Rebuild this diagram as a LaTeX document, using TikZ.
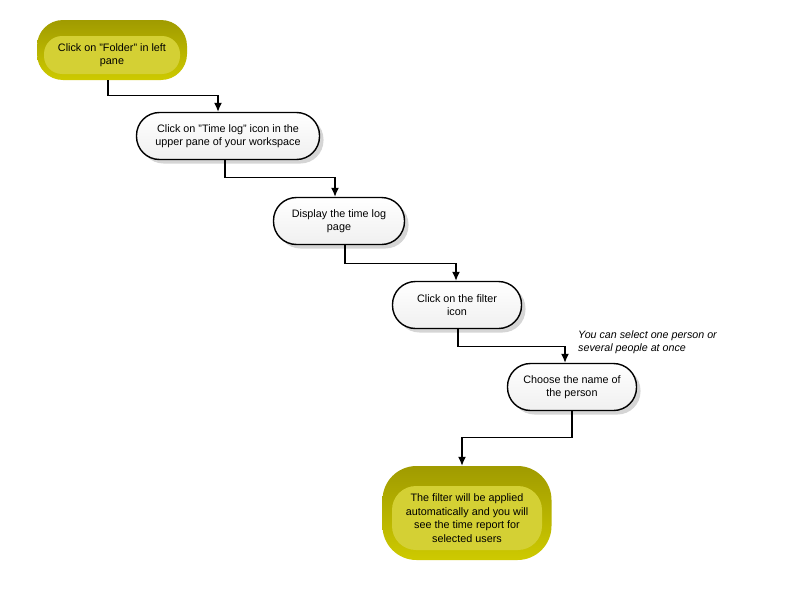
\documentclass[tikz,border=0pt]{standalone}
\usepackage{fontspec}
\setmainfont{Liberation Sans}
\usepackage{xcolor}
\usetikzlibrary{shadows,arrows.meta}
\definecolor{oliveTop}{RGB}{160,155,0}
\definecolor{oliveBody}{RGB}{200,196,0}
\definecolor{oliveLight}{RGB}{212,208,52}

\tikzset{
  stepbox/.style={draw=black, line width=1.4pt, rounded corners=23pt, minimum height=47pt,
    top color=white, bottom color=gray!12, align=center, font=\fontsize{10.8}{13.5}\selectfont,
    drop shadow={shadow xshift=4pt, shadow yshift=-4pt, fill=gray!60, opacity=.55}},
  termbox/.style={rounded corners=26pt, draw=none, top color=oliveTop, middle color=oliveBody,
    bottom color=oliveBody!90!yellow},
  terminner/.style={rounded corners=18pt, fill=oliveLight, draw=none, align=center,
    font=\fontsize{10.8}{13.5}\selectfont},
  flow/.style={-{Latex[length=9pt,width=8pt]}, line width=1.4pt},
}

\begin{document}
\begin{tikzpicture}[x=1pt, y=-1pt]
\useasboundingbox (0,0) rectangle (800,597);
% Start
\node[termbox, minimum width=150pt, minimum height=60pt] (start) at (112,50) {};
\node[terminner, minimum width=136pt, minimum height=38pt] (startin) at (112,55) {Click on "Folder" in left\\pane};

% Steps
\node[stepbox, minimum width=183pt] (timelog) at (228,136) {Click on "Time log" icon in the\\upper pane of your workspace};
\node[stepbox, minimum width=131pt] (display) at (339,221) {Display the time log\\page};
\node[stepbox, minimum width=129pt] (filter) at (457,305) {Click on the filter\\icon};
\node[stepbox, minimum width=129pt] (choose) at (572,387) {Choose the name of\\the person};

% End
\node[termbox, minimum width=169pt, minimum height=94pt, rounded corners=34pt] (result) at (467,513) {};
\node[terminner, minimum width=150pt, minimum height=64pt, rounded corners=24pt] (resultin) at (467,518)
  {The filter will be applied\\automatically and you will\\see the time report for\\selected users};

% Note
\node[anchor=north west, align=left, font=\itshape\fontsize{10.7}{13}\selectfont, inner sep=0pt] (note) at (578,331)
  {You can select one person or\\several people at once};

% Connectors
\draw[flow] ([xshift=-4pt]start.south) -- ++(0,15) -| ([xshift=-10pt]timelog.north);
\draw[flow] ([xshift=-3pt]timelog.south) -- ++(0,17) -| ([xshift=-4pt]display.north);
\draw[flow] ([xshift=6pt]display.south) -- ++(0,18) -| ([xshift=-1pt]filter.north);
\draw[flow] ([xshift=1pt]filter.south) -- ++(0,17) -| ([xshift=-7pt]choose.north);
\draw[flow] (choose.south) -- ++(0,26) -| ([xshift=-5pt]result.north);
\end{tikzpicture}
\end{document}
